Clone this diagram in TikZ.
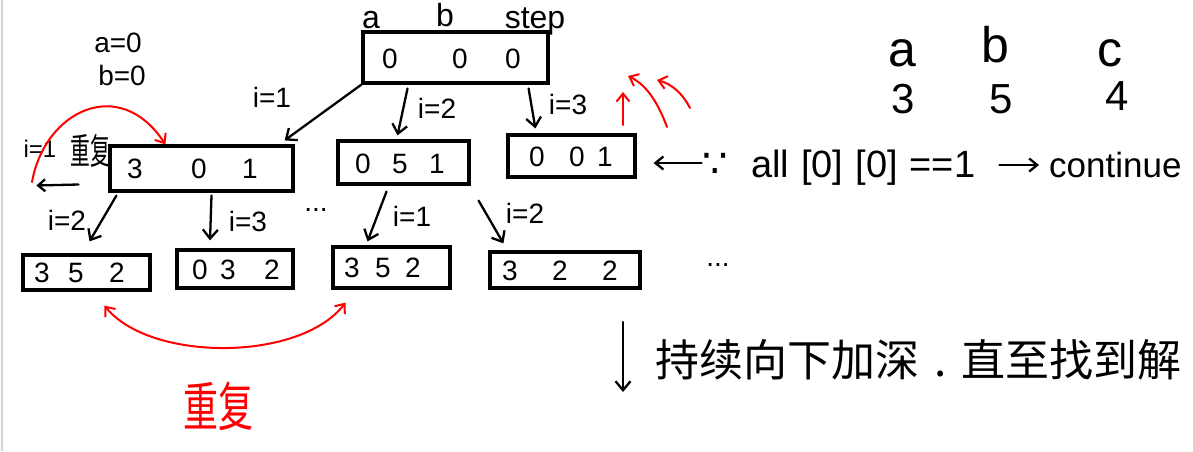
\documentclass[tikz,border=0pt]{standalone}
\usepackage{fontspec}
\setmainfont{Liberation Sans}
\newfontfamily\cjk{Noto Sans CJK SC}
\newfontfamily\dejavu{DejaVu Sans}
\usetikzlibrary{arrows.meta,calc}
\begin{document}
\begin{tikzpicture}[x=1pt,y=-1pt,
  box/.style={draw, line width=3.2pt, inner sep=0pt},
  digit/.style={inner sep=0pt, font=\fontsize{28}{28}\selectfont},
  lbl/.style={inner sep=0pt, font=\fontsize{28}{28}\selectfont},
  arr/.style={line width=2.3pt, line cap=round, -{Straight Barb[length=9pt,width=15pt,line width=2.3pt]}},
  redarr/.style={red, line width=2pt, line cap=round, -{Straight Barb[length=8pt,width=13pt,line width=2pt]}},
  big/.style={inner sep=0pt, font=\fontsize{50}{50}\selectfont},
  mid/.style={inner sep=0pt, font=\fontsize{38}{38}\selectfont},
]
\useasboundingbox (0,0) rectangle (1193,451);
\draw[gray!35, line width=1.5pt] (2,0) -- (2,451);

% ---- boxes ----
\node[box, minimum width=185pt, minimum height=51pt] (root) at (455.5,57.5) {};
\node[box, minimum width=183pt, minimum height=45pt] (b1) at (201.5,168.5) {};
\node[box, minimum width=131pt, minimum height=43pt] (b2) at (403.5,162.5) {};
\node[box, minimum width=127pt, minimum height=42pt] (b3) at (571.5,156) {};
\node[box, minimum width=127pt, minimum height=35pt] (c1) at (86.5,272.5) {};
\node[box, minimum width=116pt, minimum height=38pt] (c2) at (235,269) {};
\node[box, minimum width=117pt, minimum height=41pt] (c3) at (391.5,267.5) {};
\node[box, minimum width=150pt, minimum height=36pt] (c4) at (565,270) {};

% ---- digits ----
\foreach \t/\x [count=\i] in {0/390,0/460,0/513} \node[digit] (rd\i) at (\x,59) {\t};
\foreach \t/\x [count=\i] in {3/135,0/199,1/250} \node[digit] (b1d\i) at (\x,169) {\t};
\foreach \t/\x [count=\i] in {0/363,5/400,1/437} \node[digit] (b2d\i) at (\x,164) {\t};
\foreach \t/\x [count=\i] in {0/537,0/577,1/605} \node[digit] (b3d\i) at (\x,157) {\t};
\foreach \t/\x [count=\i] in {3/42,5/76,2/117} \node[digit] (c1d\i) at (\x,273) {\t};
\foreach \t/\x [count=\i] in {0/200,3/228,2/272} \node[digit] (c2d\i) at (\x,270) {\t};
\foreach \t/\x [count=\i] in {3/352,5/383,2/413} \node[digit] (c3d\i) at (\x,268) {\t};
\foreach \t/\x [count=\i] in {3/510,2/560,2/610} \node[digit] (c4d\i) at (\x,271) {\t};

% ---- header labels ----
\node[lbl, anchor=base, font=\fontsize{32}{32}\selectfont] (ha) at (371,28) {a};
\node[lbl, anchor=base, font=\fontsize{32}{32}\selectfont] (hb) at (445,26) {b};
\node[lbl, anchor=base, font=\fontsize{32}{32}\selectfont] (hs) at (535,28) {step};
\node[lbl, anchor=base] (a0) at (118,52) {a=0};
\node[lbl, anchor=base] (b0) at (122,85) {b=0};

% ---- level 1 arrows ----
\draw[arr] (root.south west) -- ($(b1.north east)+(-10,-4)$);
\node[lbl] (l11) at (272,97) {i=1};
\draw[arr] ($(root.south)+(-48,4)$) -- ($(b2.north)+(-6,-4)$);
\node[lbl] (l12) at (437,108) {i=2};
\draw[arr] ($(root.south east)+(-21,4)$) -- ($(b3.north west)+(29,-5)$);
\node[lbl] (l13) at (568,104) {i=3};

% ---- level 2 arrows ----
\draw[arr] ($(b1.south west)+(8,3)$) -- ($(c1.north)+(3,-12)$);
\node[lbl] (l21) at (67,220) {i=2};
\draw[arr] ($(b1.south)+(10,3)$) -- ($(c2.north)+(-25,-8)$);
\node[lbl] (l22) at (248,221) {i=3};
\node[lbl] (dots1) at (316,210) {...};
\draw[arr] ($(b2.south)+(-17,6)$) -- ($(c3.north)+(-24,-4)$);
\node[lbl] (l23) at (412,216) {i=1};
\draw[arr] ($(b2.south east)+(8,15)$) -- ($(c4.north west)+(15,-7)$);
\node[lbl] (l24) at (525,213) {i=2};
\node[lbl] (dots2) at (718,265) {...};

% ---- left annotation ----
\node[lbl, anchor=base, font=\fontsize{24}{24}\selectfont] (li) at (40,157) {i=1};
\node[inner sep=0pt, anchor=base] (lrep) at (90,164) {\scalebox{0.55}[1]{\cjk\fontsize{36}{36}\selectfont 重复}};
\coordinate (lbA) at ($(b1.west)+(-30,16)$);
\coordinate (lbB) at ($(b1.west)+(-72,17)$);
\draw[line width=2.3pt, line cap=round, -{Straight Barb[length=7pt,width=12pt,line width=2.3pt]}] (lbA) -- (lbB);
\coordinate (redS) at (32,182);
\draw[redarr] (redS) .. controls (45,110) and (120,75) .. ($(b1.north west)+(57,0)$);

% ---- red arrows above b3 ----
\coordinate (u1) at (623,125);
\coordinate (u1e) at (623,92);
\coordinate (u2) at (667,127);
\coordinate (u2e) at (628,76);
\coordinate (u3) at (690,108);
\coordinate (u3e) at (657,80);
\draw[redarr] (u1) -- (u1e);
\draw[redarr] (u2) .. controls (657,100) and (645,84) .. (u2e);
\draw[redarr] (u3) .. controls (683,94) and (672,84) .. (u3e);

% ---- right side table ----
\node[big, anchor=base] (ra) at (902,66) {a};
\node[big, anchor=base] (rb) at (995,62) {b};
\node[big, anchor=base] (rc) at (1110,66) {c};
\node[big, anchor=base, font=\fontsize{42}{42}\selectfont] (r3) at (903,113) {3};
\node[big, anchor=base, font=\fontsize{42}{42}\selectfont] (r5) at (1001,113) {5};
\node[big, anchor=base, font=\fontsize{42}{42}\selectfont] (r4) at (1117,110) {4};

% ---- explanation line ----
\coordinate (expA) at ($(b3.east)+(65,7)$);
\draw[line width=2.3pt, line cap=round, -{Straight Barb[length=8pt,width=13pt,line width=2.3pt]}] (expA) -- ($(b3.east)+(17,7)$);
\node[mid, anchor=base west, font=\dejavu\fontsize{40}{40}\selectfont] (because) at (702,177) {∵};
\node[mid, anchor=base west] (cond) at (751,177) {all\hspace{12pt}[0]\hspace{12pt}[0]\hspace{12pt}==1};
\node[mid, anchor=base west, font=\fontsize{35}{35}\selectfont] (cont) at (1049,177) {continue};
\draw[line width=2.3pt, line cap=round, -{Straight Barb[length=8pt,width=13pt,line width=2.3pt]}] ($(cond.base east)+(24,-12)$) -- ($(cont.base west)+(-10,-12)$);

% ---- repeat arc ----
\draw[red, line width=2pt, {Straight Barb[length=8pt,width=13pt,line width=2pt]}-{Straight Barb[length=8pt,width=13pt,line width=2pt]}]
  ($(c1.south)+(18,14)$) .. controls (150,362) and (300,362) .. ($(c3.south)+(-46,13)$);
\node[inner sep=0pt, red] (rep) at (218,406) {\scalebox{0.66}[1]{\cjk\fontsize{53}{53}\selectfont 重复}};

% ---- deeper ----
\coordinate (dA) at (623,322);
\coordinate (dB) at (623,392);
\draw[arr] (dA) -- (dB);
\node[inner sep=0pt, anchor=west, font=\cjk\fontsize{44}{44}\selectfont] (deep) at (655,360) {持续向下加深\hspace{15pt}.\hspace{15pt}直至找到解};
\end{tikzpicture}
\end{document}
